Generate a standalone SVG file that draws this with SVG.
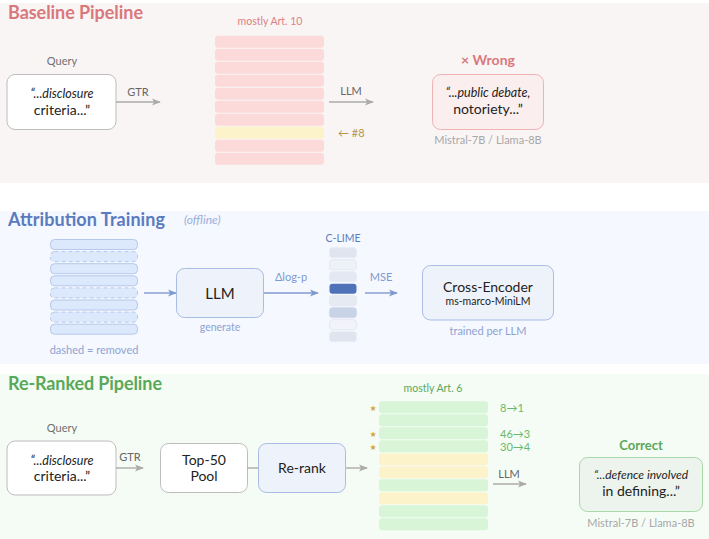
<svg xmlns="http://www.w3.org/2000/svg" width="709" height="539" viewBox="0 0 709 539">
<defs>
<style>
text{font-family:Lato,"DejaVu Sans",sans-serif;}
.title{font-weight:bold;font-size:18px;}
.conn{fill:none;stroke-width:1.4;}
.g{stroke:#ababab;}
.b{stroke:#7f9ad0;}
</style>
<marker id="ag" viewBox="0 0 10 10" refX="9" refY="5" markerWidth="9" markerHeight="9" markerUnits="userSpaceOnUse" orient="auto"><path d="M0,1 L10,5 L0,9 L2.5,5 Z" fill="#ababab"/></marker>
<marker id="ab" viewBox="0 0 10 10" refX="9" refY="5" markerWidth="9" markerHeight="9" markerUnits="userSpaceOnUse" orient="auto"><path d="M0,1 L10,5 L0,9 L2.5,5 Z" fill="#7f9ad0"/></marker>
</defs>

<!-- panels -->
<rect x="0" y="3" width="709" height="180" fill="#f9f5f5"/>
<rect x="0" y="211" width="709" height="153" fill="#f5f8fe"/>
<rect x="0" y="374" width="709" height="165" fill="#f5fcf5"/>

<!-- Baseline -->
<g id="baseline-title"><text x="8" y="19" class="title" fill="#d9787b" textLength="135">Baseline Pipeline</text></g>
<g id="query1">
<text x="62" y="65" text-anchor="middle" font-size="11" fill="#707070">Query</text>
<rect x="7" y="74.5" width="109" height="55" rx="8" fill="#fff" stroke="#bdbdbd"/>
<text x="62" y="98" text-anchor="middle" font-size="12.5" font-style="italic" fill="#222">“...disclosure</text>
<text x="62" y="115" text-anchor="middle" font-size="14" fill="#222">criteria...”</text>
</g>
<g id="ranking1">
<text x="270" y="25" text-anchor="middle" font-size="10.5" fill="#e07f82">mostly Art. 10</text>
<rect x="215" y="35.7" width="109" height="12" rx="3" fill="#fddada"/>
<rect x="215" y="48.7" width="109" height="12" rx="3" fill="#fddada"/>
<rect x="215" y="61.7" width="109" height="12" rx="3" fill="#fddada"/>
<rect x="215" y="74.7" width="109" height="12" rx="3" fill="#fddada"/>
<rect x="215" y="87.7" width="109" height="12" rx="3" fill="#fddada"/>
<rect x="215" y="100.7" width="109" height="12" rx="3" fill="#fddada"/>
<rect x="215" y="113.7" width="109" height="12" rx="3" fill="#fddada"/>
<rect x="215" y="126.7" width="109" height="12" rx="3" fill="#fdf3cb"/>
<rect x="215" y="139.7" width="109" height="12" rx="3" fill="#fddada"/>
<rect x="215" y="152.7" width="109" height="12" rx="3" fill="#fddada"/>
<text x="338" y="137" font-size="11" fill="#b8963f">← #8</text>
</g>
<g id="wrong">
<text x="488" y="65" text-anchor="middle" font-size="14" font-weight="bold" fill="#d9787b">× Wrong</text>
<rect x="432.5" y="74.5" width="111" height="55" rx="8" fill="#fbeeee" stroke="#efb3b3"/>
<text x="488" y="97" text-anchor="middle" font-size="12.5" font-style="italic" fill="#222">“...public debate,</text>
<text x="488" y="114" text-anchor="middle" font-size="14" fill="#222">notoriety...”</text>
<text x="488" y="144" text-anchor="middle" font-size="11" fill="#a8a8a8">Mistral-7B / Llama-8B</text>
</g>

<!-- Attribution -->
<g id="attr-title"><text x="8" y="226" class="title" fill="#5b7bbf" textLength="157">Attribution Training</text>
<text x="184" y="224" font-size="12" font-style="italic" fill="#9aaedb">(offline)</text></g>
<g id="inputs">
<rect x="50.5" y="239.5" width="87" height="10" rx="4" fill="#dce8fc" stroke="#b5c8ec"/>
<rect x="50.5" y="251.6" width="87" height="10" rx="4" fill="#dce8fc" stroke="#b5c8ec" stroke-dasharray="4,3"/>
<rect x="50.5" y="263.7" width="87" height="10" rx="4" fill="#dce8fc" stroke="#b5c8ec"/>
<rect x="50.5" y="275.8" width="87" height="10" rx="4" fill="#dce8fc" stroke="#b5c8ec"/>
<rect x="50.5" y="287.9" width="87" height="10" rx="4" fill="#dce8fc" stroke="#b5c8ec" stroke-dasharray="4,3"/>
<rect x="50.5" y="300" width="87" height="10" rx="4" fill="#dce8fc" stroke="#b5c8ec"/>
<rect x="50.5" y="312.1" width="87" height="10" rx="4" fill="#dce8fc" stroke="#b5c8ec" stroke-dasharray="4,3"/>
<rect x="50.5" y="324.2" width="87" height="10" rx="4" fill="#dce8fc" stroke="#b5c8ec"/>
<text x="94" y="354" text-anchor="middle" font-size="11" fill="#8ea3d4">dashed = removed</text>
</g>
<g id="llm">
<rect x="176.5" y="268.5" width="87" height="49" rx="8" fill="#eef2fa" stroke="#a9bce4"/>
<text x="220" y="299" text-anchor="middle" font-size="15" fill="#222">LLM</text>
<text x="220" y="331" text-anchor="middle" font-size="10.5" fill="#8ea3d4">generate</text>
</g>
<g id="clime">
<text x="343" y="242" text-anchor="middle" font-size="10.5" fill="#5b7bbf">C-LIME</text>
<rect x="329.5" y="247.7" width="27" height="10" rx="3" fill="#dfe4ef" stroke="#e8ecf4"/>
<rect x="329.5" y="259.7" width="27" height="10" rx="3" fill="#eef1f8" stroke="#e3e8f2"/>
<rect x="329.5" y="271.7" width="27" height="10" rx="3" fill="#e3e8f2" stroke="#e8ecf4"/>
<rect x="329.5" y="283.7" width="27" height="10" rx="3" fill="#4f72b8"/>
<rect x="329.5" y="295.7" width="27" height="10" rx="3" fill="#e6eaf3" stroke="#e3e8f2"/>
<rect x="329.5" y="307.7" width="27" height="10" rx="3" fill="#c9d3e8" stroke="#d3dbec"/>
<rect x="329.5" y="319.7" width="27" height="10" rx="3" fill="#f2f4f9" stroke="#e3e8f2"/>
<rect x="329.5" y="331.7" width="27" height="10" rx="3" fill="#dfe4ef" stroke="#e8ecf4"/>
</g>
<g id="cross-encoder">
<rect x="422.5" y="265.5" width="131" height="54.5" rx="8" fill="#eef2fa" stroke="#a9bce4"/>
<text x="488" y="292" text-anchor="middle" font-size="14" fill="#222">Cross-Encoder</text>
<text x="488" y="305" text-anchor="middle" font-size="10.5" fill="#222">ms-marco-MiniLM</text>
<text x="488" y="335" text-anchor="middle" font-size="11" fill="#8ea3d4">trained per LLM</text>
</g>

<!-- Re-ranked -->
<g id="rerank-title"><text x="8" y="390" class="title" fill="#5aa85a" textLength="154">Re-Ranked Pipeline</text></g>
<g id="query2">
<text x="62" y="432" text-anchor="middle" font-size="11" fill="#707070">Query</text>
<rect x="7" y="441" width="109" height="54" rx="8" fill="#fff" stroke="#bdbdbd"/>
<text x="62" y="465" text-anchor="middle" font-size="12.5" font-style="italic" fill="#222">“...disclosure</text>
<text x="62" y="481" text-anchor="middle" font-size="14" fill="#222">criteria...”</text>
</g>
<g id="pool">
<rect x="160.5" y="443.5" width="87" height="49" rx="8" fill="#fff" stroke="#bdbdbd"/>
<text x="204" y="465" text-anchor="middle" font-size="14" fill="#222">Top-50</text>
<text x="204" y="481" text-anchor="middle" font-size="14" fill="#222">Pool</text>
</g>
<g id="rerank">
<rect x="258.5" y="443.5" width="87" height="49" rx="8" fill="#eef2fa" stroke="#a9bce4"/>
<text x="302" y="473" text-anchor="middle" font-size="14" fill="#222">Re-rank</text>
</g>
<g id="ranking2">
<text x="433" y="392" text-anchor="middle" font-size="10.5" fill="#5aa85a">mostly Art. 6</text>
<rect x="379" y="401.3" width="109" height="12" rx="3" fill="#d8f5d8"/>
<rect x="379" y="414.3" width="109" height="12" rx="3" fill="#d8f5d8"/>
<rect x="379" y="427.3" width="109" height="12" rx="3" fill="#d8f5d8"/>
<rect x="379" y="440.3" width="109" height="12" rx="3" fill="#d8f5d8"/>
<rect x="379" y="453.3" width="109" height="12" rx="3" fill="#fdf3cb"/>
<rect x="379" y="466.3" width="109" height="12" rx="3" fill="#fdf3cb"/>
<rect x="379" y="479.3" width="109" height="12" rx="3" fill="#d8f5d8"/>
<rect x="379" y="492.3" width="109" height="12" rx="3" fill="#fdf3cb"/>
<rect x="379" y="505.3" width="109" height="12" rx="3" fill="#d8f5d8"/>
<rect x="379" y="518.3" width="109" height="12" rx="3" fill="#d8f5d8"/>
<text x="373" y="411" text-anchor="middle" font-size="8" fill="#d4a53c">★</text>
<text x="373" y="437" text-anchor="middle" font-size="8" fill="#d4a53c">★</text>
<text x="373" y="450" text-anchor="middle" font-size="8" fill="#d4a53c">★</text>
<text x="500" y="412" font-size="11" fill="#6ab86a">8→1</text>
<text x="500" y="438" font-size="11" fill="#6ab86a">46→3</text>
<text x="500" y="451" font-size="11" fill="#6ab86a">30→4</text>
</g>
<g id="correct">
<text x="641" y="450" text-anchor="middle" font-size="13" font-weight="bold" fill="#5aa85a">Correct</text>
<rect x="579.5" y="457.5" width="123" height="54" rx="8" fill="#edf4ed" stroke="#a8d8a8"/>
<text x="641" y="479" text-anchor="middle" font-size="12" font-style="italic" fill="#222">“...defence involved</text>
<text x="641" y="496" text-anchor="middle" font-size="14" fill="#222">in defining...”</text>
<text x="641" y="527" text-anchor="middle" font-size="11" fill="#a8a8a8">Mistral-7B / Llama-8B</text>
</g>

<!-- connectors -->
<g id="connectors">
<line x1="116" y1="102" x2="160" y2="102" class="conn g" marker-end="url(#ag)"/>
<text x="138" y="96" text-anchor="middle" font-size="11" fill="#666">GTR</text>
<line x1="329" y1="102" x2="373" y2="102" class="conn g" marker-end="url(#ag)"/>
<text x="351" y="95" text-anchor="middle" font-size="11" fill="#666">LLM</text>
<line x1="144" y1="293" x2="176" y2="293" class="conn b" marker-end="url(#ab)"/>
<line x1="264" y1="293" x2="318" y2="293" class="conn b" marker-end="url(#ab)"/>
<text x="291" y="281" text-anchor="middle" font-size="11" fill="#7f9ad0">Δlog-p</text>
<line x1="365" y1="293" x2="397" y2="293" class="conn b" marker-end="url(#ab)"/>
<text x="381" y="281" text-anchor="middle" font-size="11" fill="#7f9ad0">MSE</text>
<line x1="116" y1="468" x2="143" y2="468" class="conn g" marker-end="url(#ag)"/>
<text x="130" y="461" text-anchor="middle" font-size="11" fill="#666">GTR</text>
<line x1="247" y1="468" x2="258" y2="468" class="conn g"/>
<line x1="346" y1="468" x2="367" y2="468" class="conn g" marker-end="url(#ag)"/>
<line x1="493" y1="484" x2="526" y2="484" class="conn g" marker-end="url(#ag)"/>
<text x="509" y="478" text-anchor="middle" font-size="11" fill="#666">LLM</text>
</g>
</svg>
